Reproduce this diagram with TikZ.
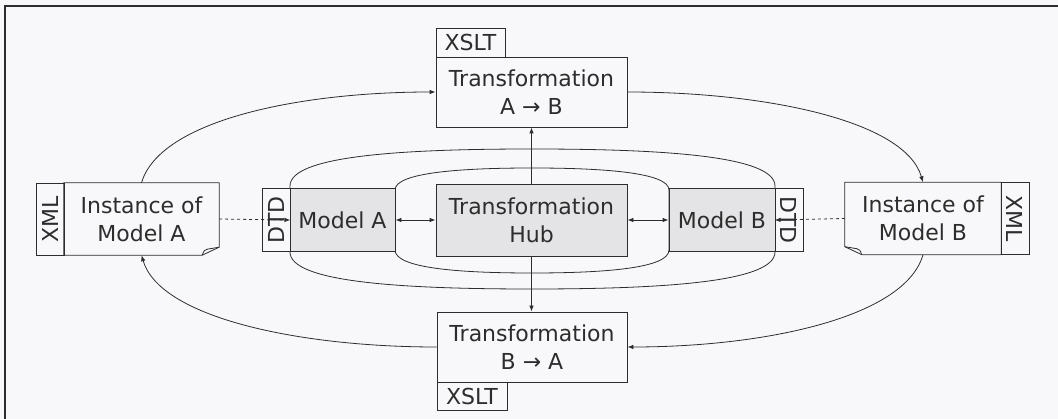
\documentclass[tikz,border=0pt]{standalone}
\usepackage{fontspec}
\setmainfont{DejaVu Sans}
\usetikzlibrary{arrows.meta}
\definecolor{bg}{RGB}{248,248,250}
\definecolor{ln}{RGB}{45,45,45}
\definecolor{shade}{RGB}{228,228,230}
\begin{document}
\begin{tikzpicture}[x=1pt,y=-1pt,
  every node/.style={font=\fontsize{22pt}{28pt}\selectfont, text=ln},
  box/.style={draw=ln, line width=0.8pt, inner sep=0pt, align=center},
  plainbox/.style={box, fill=bg},
  shadebox/.style={box, fill=shade},
  docnode/.style={inner sep=0pt, align=center},
  shapeline/.style={draw=ln, line width=0.8pt},
  arr/.style={draw=ln, line width=0.8pt, -{Latex[length=6pt,width=4.5pt]}},
  dotarr/.style={arr, dash pattern=on 3pt off 3pt},
  dblarr/.style={draw=ln, line width=0.8pt, {Latex[length=6pt,width=4.5pt]}-{Latex[length=6pt,width=4.5pt]}}
]
\useasboundingbox (0,0) rectangle (1058,419);
\fill[bg] (0,0) rectangle (1058,419);
\draw[ln, line width=1.3pt] (5,419) -- (5,6) -- (1058,6);

% ellipses
\draw[shapeline] (290,186) -- (290,252) .. controls (290,282) and (400,289) .. (532,289)
  .. controls (664,289) and (775,282) .. (775,252) -- (775,186)
  .. controls (775,156) and (664,149) .. (532,149)
  .. controls (400,149) and (290,156) .. (290,186) -- cycle;
\draw[shapeline] (395,190) .. controls (395,172) and (465,168) .. (532,168)
  .. controls (599,168) and (669,172) .. (669,190) -- (669,250)
  .. controls (669,269) and (599,273) .. (532,273)
  .. controls (465,273) and (395,269) .. (395,250) -- cycle;

% top transformation
\node[plainbox, minimum width=191pt, minimum height=70pt] (tAB) at (531.5,92) {Transformation\\A → B};
\node[plainbox, minimum width=69pt, minimum height=29pt] (xsltA) at (470.5,42.5) {XSLT};
% bottom transformation
\node[plainbox, minimum width=190pt, minimum height=70pt] (tBA) at (532,347) {Transformation\\B → A};
\node[plainbox, minimum width=70pt, minimum height=28pt] (xsltB) at (472,396) {XSLT};

% centre
\node[shadebox, minimum width=191pt, minimum height=72pt] (hub) at (531.5,220) {Transformation\\Hub};
\node[shadebox, minimum width=105pt, minimum height=63pt] (modA) at (342.5,220) {Model A};
\node[plainbox, rotate=90, minimum width=63pt, minimum height=28pt] (dtdA) at (276,220) {DTD};
\node[shadebox, minimum width=106pt, minimum height=63pt] (modB) at (722,220) {Model B};
\node[plainbox, rotate=-90, minimum width=63pt, minimum height=28pt] (dtdB) at (789,220) {DTD};

% instances
\node[docnode, minimum width=155pt, minimum height=72pt] (instA) at (141.5,219) {Instance of\\Model A};
\node[plainbox, rotate=90, minimum width=72pt, minimum height=28pt] (xmlA) at (50,219) {XML};
\draw[shapeline] (instA.north west) -- (instA.north east) -- ([yshift=8pt]instA.south east)
  -- ([xshift=-17pt]instA.south east) -- (instA.south west) -- cycle;
\draw[shapeline] ([xshift=-17pt]instA.south east) .. controls ([xshift=-15pt,yshift=5pt]instA.south east) .. ([xshift=-12pt,yshift=6pt]instA.south east) -- ([yshift=8pt]instA.south east);

\node[docnode, minimum width=156pt, minimum height=72pt] (instB) at (923,218.5) {Instance of\\Model B};
\node[plainbox, rotate=-90, minimum width=72pt, minimum height=28pt] (xmlB) at (1015,218.5) {XML};
\draw[shapeline] (instB.north west) -- (instB.north east) -- (instB.south east)
  -- ([xshift=17pt]instB.south west) -- ([yshift=8pt]instB.south west) -- cycle;
\draw[shapeline] ([xshift=17pt]instB.south west) .. controls ([xshift=15pt,yshift=5pt]instB.south west) .. ([xshift=12pt,yshift=6pt]instB.south west) -- ([yshift=8pt]instB.south west);

% connectors
\draw[dotarr] (instA.east) -- (dtdA.south);
\draw[dotarr] (instB.west) -- (dtdB.south);
\draw[dblarr] (modA.east) -- (hub.west);
\draw[dblarr] (hub.east) -- (modB.west);
\draw[arr] (hub.north) -- (tAB.south);
\draw[arr] (hub.south) -- (hub.south |- tBA.north);

\draw[arr] (instA.north) .. controls (160,120) and (300,92) .. (tAB.west);
\draw[arr] (tAB.east) .. controls (763,92) and (905,120) .. (instB.north);
\draw[arr] (instB.south) .. controls (905,318) and (763,347) .. (tBA.east);
\draw[arr] (tBA.west) .. controls (300,347) and (160,318) .. (instA.south);
\end{tikzpicture}
\end{document}
